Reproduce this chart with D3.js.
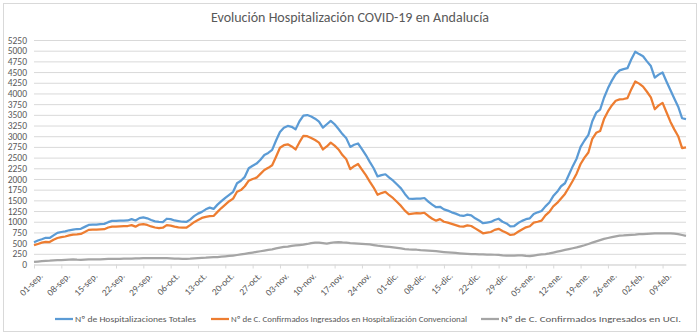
<!DOCTYPE html>
<html>
<head>
<meta charset="utf-8">
<script src="https://cdn.jsdelivr.net/npm/d3@7"></script>
<style>
  body { margin: 0; background: #fff; }
  svg { display: block; }
  text { font-family: Carlito, Calibri, Lato, sans-serif; fill: #595959; }
</style>
</head>
<body>
<div id="chart"></div>
<script>

// daily series, starting 01-sep
const startDate = new Date(2020, 8, 1)

const totales = [
  520, 560, 590, 625, 620, 680, 740, 760, 775, 800, 815, 830, 835, 880,
  925, 930, 935, 945, 950, 990, 1020, 1020, 1025, 1025, 1030, 1060, 1030, 1085,
  1100, 1080, 1040, 1010, 995, 990, 1070, 1060, 1030, 1015, 1000, 995, 1050, 1130,
  1190, 1230, 1290, 1330, 1300, 1400, 1480, 1560, 1630, 1700, 1900, 1960, 2050, 2250,
  2310, 2360, 2450, 2560, 2610, 2680, 2900, 3100, 3200, 3240, 3220, 3160, 3350, 3480,
  3495, 3460, 3410, 3340, 3200, 3280, 3360, 3280, 3170, 3050, 2950, 2750, 2800, 2830,
  2700, 2560, 2400, 2250, 2060, 2090, 2110, 2030, 1960, 1870, 1780, 1650, 1540, 1535,
  1540, 1540, 1555, 1470, 1400, 1340, 1350, 1290, 1260, 1220, 1190, 1150, 1135, 1165,
  1150, 1080, 1030, 965, 980, 995, 1040, 1070, 1000, 960, 890, 900, 970, 1020,
  1060, 1080, 1180, 1220, 1250, 1360, 1450, 1600, 1700, 1830, 1900, 2100, 2300, 2480,
  2750, 2900, 3030, 3350, 3550, 3620, 3900, 4120, 4300, 4450, 4540, 4570, 4590, 4800,
  4975, 4920, 4870, 4750, 4640, 4370, 4440, 4490, 4280, 4080, 3880, 3690, 3420, 3400
]

const convencional = [
  450, 480, 510, 530, 525, 580, 620, 640, 655, 680, 700, 705, 715, 760,
  810, 815, 815, 820, 825, 865, 885, 885, 890, 895, 900, 920, 885, 935,
  945, 925, 890, 865, 850, 860, 920, 910, 885, 870, 862, 860, 920, 990,
  1040, 1090, 1115, 1130, 1135, 1230, 1320, 1400, 1480, 1540, 1700, 1740, 1830, 1960,
  2000, 2030, 2120, 2210, 2260, 2320, 2520, 2730, 2790, 2810, 2760, 2690, 2860, 3010,
  3000, 2960, 2910, 2850, 2690, 2760, 2850, 2780, 2690, 2560, 2460, 2230, 2300, 2350,
  2220, 2090, 1940, 1800, 1630, 1670, 1700, 1620, 1550, 1460, 1370, 1260, 1180, 1190,
  1200, 1195, 1210, 1135, 1070, 1025, 1060, 1000, 980, 950, 920, 890, 885, 915,
  900, 845, 790, 730, 745, 760, 810, 835, 785, 740, 690, 705, 765, 820,
  870, 895, 980, 1000, 1025, 1150, 1230, 1360, 1440, 1545, 1650, 1800, 1960, 2130,
  2350, 2500, 2620, 2940, 3080, 3120, 3400, 3580, 3720, 3830, 3860, 3870, 3890, 4100,
  4280, 4230, 4160, 4040, 3910, 3630, 3720, 3780, 3560, 3340, 3160, 3000, 2720, 2740
]

const uci = [
  60, 70, 78, 85, 88, 95, 100, 105, 110, 115, 118, 112, 110, 115,
  120, 118, 120, 122, 125, 130, 132, 130, 132, 135, 138, 140, 142, 145,
  148, 150, 152, 150, 148, 150, 148, 145, 140, 135, 130, 130, 135, 145,
  150, 155, 158, 165, 170, 175, 182, 190, 200, 210, 222, 235, 250, 265,
  280, 295, 310, 325, 340, 355, 375, 395, 410, 420, 435, 445, 455, 465,
  480, 500, 510, 512, 500, 490, 505, 520, 525, 515, 510, 500, 495, 490,
  485, 478, 470, 455, 440, 428, 418, 410, 400, 390, 375, 362, 355, 350,
  345, 335, 328, 322, 318, 310, 300, 292, 285, 278, 270, 262, 255, 248,
  242, 240, 238, 235, 232, 230, 228, 225, 215, 210, 208, 210, 212, 215,
  200, 195, 210, 225, 235, 245, 260, 280, 300, 320, 340, 360, 380, 400,
  425, 450, 480, 510, 540, 570, 600, 620, 640, 660, 675, 680, 688, 695,
  700, 710, 712, 718, 722, 728, 730, 730, 728, 728, 722, 710, 690, 668
]

// one label every 7 days
const tickLabels = [
  '01-sep.', '08-sep.', '15-sep.', '22-sep.', '29-sep.', '06-oct.', '13-oct.', '20-oct.',
  '27-oct.', '03-nov.', '10-nov.', '17-nov.', '24-nov.', '01-dic.', '08-dic.', '15-dic.',
  '22-dic.', '29-dic.', '05-ene.', '12-ene.', '19-ene.', '26-ene.', '02-feb.', '09-feb.'
]

const yTicks = d3.range(0, 5251, 250)

const seriesNames = [
  'Nº de Hospitalizaciones Totales',
  'Nº de C. Confirmados Ingresados en Hospitalización Convencional',
  'Nº de C. Confirmados Ingresados en UCI.'
]
const seriesColors = ['#5b9bd5', '#ed7d31', '#a5a5a5']


// chart setting
const chart = {
  width: 700,
  height: 335,
  left: 34,
  right: 686,
  top: 40,
  bottom: 264.5
}

const dates = totales.map((d, i) => d3.timeDay.offset(startDate, i))
const tickDates = tickLabels.map((d, i) => d3.timeDay.offset(startDate, i * 7))

const xScale = d3.scaleTime()
  .domain([dates[0], dates[dates.length - 1]])
  .range([chart.left, chart.right])

const yScale = d3.scaleLinear()
  .domain([0, 5250])
  .range([chart.bottom, chart.top])

const svg = d3.select('#chart')
  .append('svg')
    .attr('width', chart.width)
    .attr('height', chart.height)

svg.append('rect')
  .attr('x', 3.5).attr('y', 3.5)
  .attr('width', 693).attr('height', 328)
  .attr('fill', '#fff')
  .attr('stroke', '#d9d9d9')

svg.append('text')
  .attr('x', 350)
  .attr('y', 22)
  .attr('text-anchor', 'middle')
  .style('font-size', '14px')
  .text('Evolución Hospitalización COVID-19 en Andalucía')

// gridlines + y labels
const yAxis = svg.append('g')
  .attr('transform', `translate(${chart.left},0)`)
  .call(d3.axisLeft(yScale)
    .tickValues(yTicks)
    .tickFormat(d3.format('d'))
    .tickSize(-(chart.right - chart.left))
    .tickPadding(7))

yAxis.select('.domain').remove()
yAxis.selectAll('line').attr('stroke', '#d9d9d9')
yAxis.selectAll('text')
  .style('font-size', '9.5px')
  .attr('fill', '#595959')

// x axis
const xAxis = svg.append('g')
  .attr('transform', `translate(0,${chart.bottom})`)
  .call(d3.axisBottom(xScale)
    .tickValues(tickDates)
    .tickFormat((d, i) => tickLabels[i])
    .tickSizeInner(4)
    .tickSizeOuter(0))

xAxis.select('.domain').attr('stroke', '#d9d9d9')
xAxis.selectAll('line').attr('stroke', '#d9d9d9')
xAxis.selectAll('text')
  .style('font-size', '9.5px')
  .attr('fill', '#595959')
  .attr('text-anchor', 'end')
  .attr('dy', '0.3em')
  .attr('transform', 'translate(2,5) rotate(-45)')

// lines
const line = d3.line()
  .x((d, i) => xScale(dates[i]))
  .y(d => yScale(d))

const allSeries = [totales, convencional, uci]

svg.selectAll('path.serie')
  .data(allSeries)
  .join('path')
    .attr('class', 'serie')
    .attr('d', d => line(d))
    .attr('fill', 'none')
    .attr('stroke', (d, i) => seriesColors[i])
    .attr('stroke-width', 2.25)
    .attr('stroke-linejoin', 'round')

// legend: key start and text width of each entry
const legendX = [55, 211, 481]
const legendW = [121, 236, 180]

const legend = svg.selectAll('g.legend')
  .data(seriesNames)
  .join('g')
    .attr('class', 'legend')
    .attr('transform', (d, i) => `translate(${legendX[i]},319)`)

legend.append('line')
  .attr('x1', 0).attr('x2', 18)
  .attr('stroke', (d, i) => seriesColors[i])
  .attr('stroke-width', 2.25)

legend.append('text')
  .attr('x', 20)
  .attr('dy', '0.35em')
  .style('font-size', '9px')
  .attr('textLength', (d, i) => legendW[i])
  .attr('lengthAdjust', 'spacingAndGlyphs')
  .text(d => d)

</script>
</body>
</html>
